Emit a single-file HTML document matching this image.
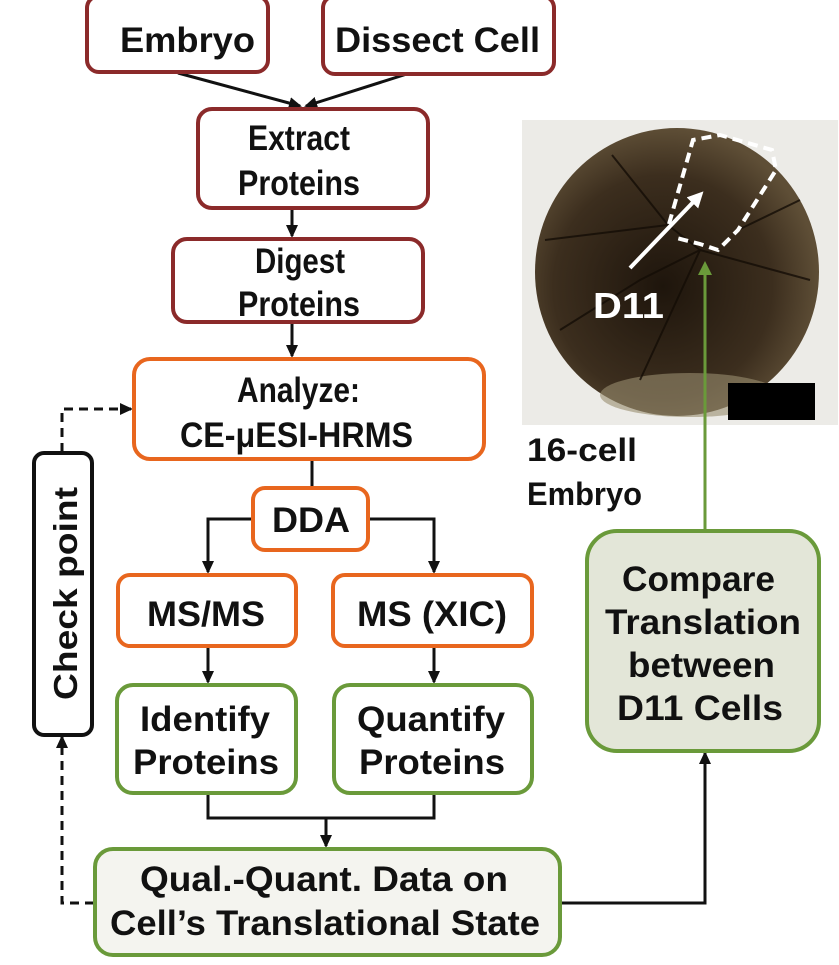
<!DOCTYPE html>
<html><head><meta charset="utf-8"><style>html,body{margin:0;padding:0;background:#fff}svg{display:block}</style></head><body>
<svg width="839" height="965" viewBox="0 0 839 965" xmlns="http://www.w3.org/2000/svg" font-family="Liberation Sans, Arial, sans-serif" font-weight="bold">
<defs>
<marker id="a" markerWidth="14" markerHeight="14" refX="11" refY="7" orient="auto" markerUnits="userSpaceOnUse"><path d="M0,1 L13,7 L0,13 z" fill="#111"/></marker>
<marker id="g" markerWidth="14" markerHeight="14" refX="10" refY="7" orient="auto" markerUnits="userSpaceOnUse"><path d="M0,0 L14,7 L0,14 z" fill="#6a9a3a"/></marker>
<marker id="w" markerWidth="16" markerHeight="16" refX="11" refY="8" orient="auto" markerUnits="userSpaceOnUse"><path d="M0,0 L16,8 L0,16 z" fill="#fff"/></marker>
<radialGradient id="eg" cx="0.45" cy="0.55" r="0.55"><stop offset="0" stop-color="#1e150c"/><stop offset="0.7" stop-color="#3c2e1e"/><stop offset="1" stop-color="#5e4e36"/></radialGradient>
</defs>
<rect x="522" y="120" width="316" height="305" fill="#ecebe7"/>
<ellipse cx="677" cy="272" rx="142" ry="144" fill="url(#eg)"/>
<ellipse cx="690" cy="395" rx="90" ry="22" fill="#9a8e70" opacity="0.6"/>
<g stroke="#140d06" stroke-width="2" fill="none" opacity="0.8">
<path d="M612,155 L668,225 L545,240"/><path d="M668,225 L700,250 L640,380"/><path d="M700,250 L810,280"/><path d="M560,330 L640,280 L700,250"/><path d="M738,230 L800,200"/>
</g>
<path d="M669,224 L693,140 L720,135 L772,150 L776,170 L738,230 L718,250 L700,244 L673,237" fill="none" stroke="#fff" stroke-width="4" stroke-dasharray="10,6"/>
<line x1="630" y1="268" x2="700" y2="195" stroke="#fff" stroke-width="4" marker-end="url(#w)"/>
<text x="593" y="318" fill="#fff" font-size="36" textLength="71" lengthAdjust="spacingAndGlyphs">D11</text>
<rect x="728" y="383" width="87" height="37" fill="#000"/>
<text x="527" y="461" font-size="32" fill="#111" textLength="110" lengthAdjust="spacingAndGlyphs">16-cell</text>
<text x="527" y="505" font-size="32" fill="#111" textLength="115" lengthAdjust="spacingAndGlyphs">Embryo</text>
<line x1="705" y1="530" x2="705" y2="265" stroke="#6a9a3a" stroke-width="3" marker-end="url(#g)"/>

<g stroke="#111" stroke-width="3" fill="none">
<line x1="178" y1="73" x2="300" y2="106" marker-end="url(#a)"/>
<line x1="410" y1="73" x2="306" y2="106" marker-end="url(#a)"/>
<line x1="292" y1="208" x2="292" y2="236" marker-end="url(#a)"/>
<line x1="292" y1="322" x2="292" y2="356" marker-end="url(#a)"/>
<line x1="312" y1="459" x2="312" y2="487"/>
<polyline points="252,519 208,519 208,572" marker-end="url(#a)"/>
<polyline points="368,519 434,519 434,572" marker-end="url(#a)"/>
<line x1="208" y1="646" x2="208" y2="682" marker-end="url(#a)"/>
<line x1="434" y1="646" x2="434" y2="682" marker-end="url(#a)"/>
<polyline points="208,793 208,818 434,818 434,793"/>
<line x1="326" y1="818" x2="326" y2="846" marker-end="url(#a)"/>
<polyline points="560,903 705,903 705,753" marker-end="url(#a)"/>
<g stroke-dasharray="9,6">
<polyline points="94,903 62,903 62,737" marker-end="url(#a)"/>
<polyline points="62,452 62,409 131,409" marker-end="url(#a)"/>
</g>
</g>

<g stroke-width="4">
<rect x="87" y="-4" width="181" height="76" rx="12" fill="#fff" stroke="#8b2a2a"/>
<rect x="323" y="-4" width="231" height="78" rx="12" fill="#fff" stroke="#8b2a2a"/>
<rect x="198" y="109" width="230" height="99" rx="14" fill="#fff" stroke="#8b2a2a"/>
<rect x="173" y="239" width="250" height="83" rx="14" fill="#fff" stroke="#8b2a2a"/>
<rect x="134" y="359" width="350" height="100" rx="16" fill="#fff" stroke="#e8661e"/>
<rect x="253" y="488" width="115" height="62" rx="12" fill="#fff" stroke="#e8661e"/>
<rect x="118" y="575" width="178" height="71" rx="12" fill="#fff" stroke="#e8661e"/>
<rect x="333" y="575" width="199" height="71" rx="12" fill="#fff" stroke="#e8661e"/>
<rect x="117" y="685" width="179" height="108" rx="16" fill="#fff" stroke="#6a9a3a"/>
<rect x="334" y="685" width="198" height="108" rx="16" fill="#fff" stroke="#6a9a3a"/>
<rect x="95" y="849" width="465" height="106" rx="18" fill="#f4f4ef" stroke="#6a9a3a"/>
<rect x="587" y="531" width="232" height="220" rx="30" fill="#e3e6d8" stroke="#6a9a3a"/>
<rect x="34" y="453" width="58" height="282" rx="10" fill="#fff" stroke="#111"/>
</g>

<g fill="#111" font-size="35">
<text x="120" y="52" textLength="135" lengthAdjust="spacingAndGlyphs">Embryo</text>
<text x="335" y="52" textLength="205" lengthAdjust="spacingAndGlyphs">Dissect Cell</text>
<text x="248" y="150" textLength="102" lengthAdjust="spacingAndGlyphs">Extract</text>
<text x="238" y="195" textLength="122" lengthAdjust="spacingAndGlyphs">Proteins</text>
<text x="255" y="273" textLength="90" lengthAdjust="spacingAndGlyphs">Digest</text>
<text x="238" y="316" textLength="122" lengthAdjust="spacingAndGlyphs">Proteins</text>
<text x="237" y="402" textLength="123" lengthAdjust="spacingAndGlyphs">Analyze:</text>
<text x="180" y="447" textLength="233" lengthAdjust="spacingAndGlyphs">CE-μESI-HRMS</text>
<text x="272" y="532" textLength="78" lengthAdjust="spacingAndGlyphs">DDA</text>
<text x="147" y="626" textLength="118" lengthAdjust="spacingAndGlyphs">MS/MS</text>
<text x="357" y="626" textLength="150" lengthAdjust="spacingAndGlyphs">MS (XIC)</text>
<text x="140" y="731" textLength="130" lengthAdjust="spacingAndGlyphs">Identify</text>
<text x="133" y="774" textLength="146" lengthAdjust="spacingAndGlyphs">Proteins</text>
<text x="357" y="731" textLength="148" lengthAdjust="spacingAndGlyphs">Quantify</text>
<text x="359" y="774" textLength="146" lengthAdjust="spacingAndGlyphs">Proteins</text>
<text x="140" y="891" textLength="368" lengthAdjust="spacingAndGlyphs">Qual.-Quant. Data on</text>
<text x="110" y="935" textLength="430" lengthAdjust="spacingAndGlyphs">Cell’s Translational State</text>
<text x="622" y="591" textLength="153" lengthAdjust="spacingAndGlyphs">Compare</text>
<text x="605" y="634" textLength="196" lengthAdjust="spacingAndGlyphs">Translation</text>
<text x="628" y="677" textLength="147" lengthAdjust="spacingAndGlyphs">between</text>
<text x="617" y="720" textLength="166" lengthAdjust="spacingAndGlyphs">D11 Cells</text>
<text transform="translate(77,700) rotate(-90)" x="0" y="0" font-size="33" textLength="213" lengthAdjust="spacingAndGlyphs">Check point</text>
</g>
</svg>
</body></html>
